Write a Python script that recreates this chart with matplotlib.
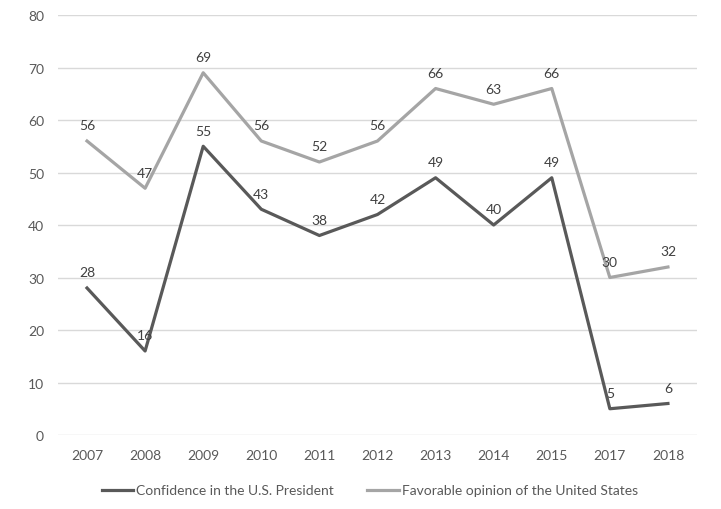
import matplotlib.pyplot as plt
import numpy as np

years = ["2007", "2008", "2009", "2010", "2011", "2012", "2013", "2014", "2015", "2017", "2018"]
confidence = [28, 16, 55, 43, 38, 42, 49, 40, 49, 5, 6]
favorable = [56, 47, 69, 56, 52, 56, 66, 63, 66, 30, 32]

plt.rcParams['font.family'] = ['Lato', 'DejaVu Sans']
txt = '#595959'

fig = plt.figure(figsize=(7.21, 5.10), dpi=100)
ax = fig.add_axes([0.0804, 0.1451, 0.8863, 0.8235])

x = np.arange(len(years))
ax.plot(x, confidence, color='#595959', lw=2.3, label="Confidence in the U.S. President", solid_joinstyle='round')
ax.plot(x, favorable, color='#A5A5A5', lw=2.3, label="Favorable opinion of the United States", solid_joinstyle='round')

for xi, v in zip(x, confidence):
    ax.annotate(str(v), (xi, v), xytext=(0, 7), textcoords='offset points',
                ha='center', va='bottom', fontsize=10, color='#404040')
for xi, v in zip(x, favorable):
    ax.annotate(str(v), (xi, v), xytext=(0, 7), textcoords='offset points',
                ha='center', va='bottom', fontsize=10, color='#404040')

ax.set_xlim(-0.5, len(years) - 0.5)
ax.set_ylim(0, 80)
ax.set_yticks(range(0, 81, 10))
ax.set_xticks(x)
ax.set_xticklabels(years)
ax.tick_params(length=0, colors=txt, labelsize=10)
ax.tick_params(axis='y', pad=10)
ax.tick_params(axis='x', pad=10)
ax.grid(axis='y', color='#D9D9D9', lw=1)
ax.set_axisbelow(True)
for s in ax.spines.values():
    s.set_visible(False)

fig.legend(loc='lower center', bbox_to_anchor=(0.513, 0.0), ncol=2, frameon=False,
           fontsize=10, labelcolor=txt, handlelength=2.3, handletextpad=0.2,
           columnspacing=2.4)

fig.savefig('out.png', dpi=100)
